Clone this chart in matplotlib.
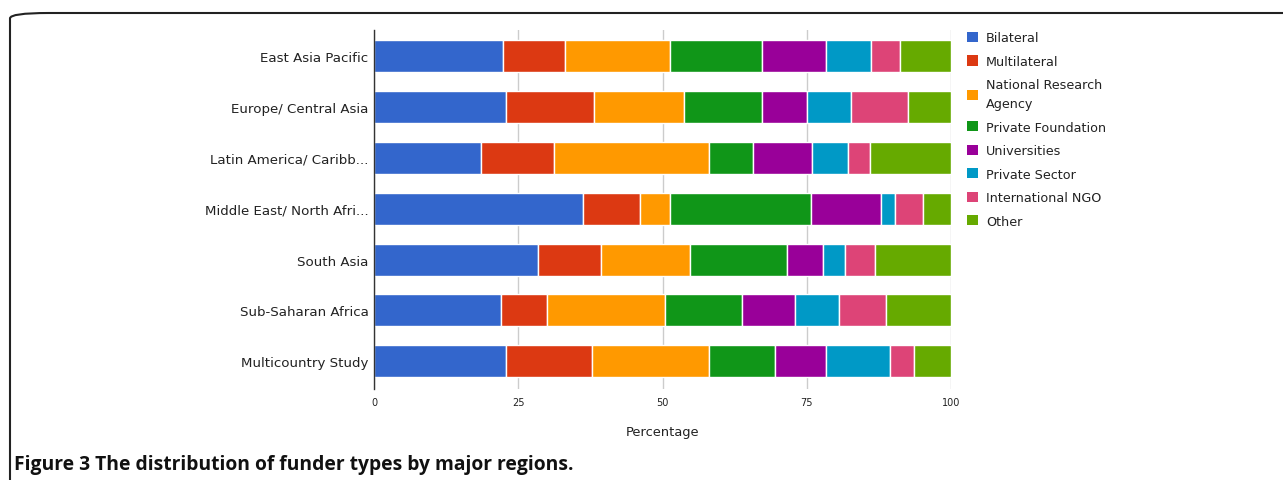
import matplotlib
matplotlib.use("Agg")
import matplotlib.pyplot as plt
from matplotlib.patches import FancyBboxPatch, Patch
import numpy as np

regions = ["East Asia Pacific", "Europe/ Central Asia", "Latin America/ Caribb...",
           "Middle East/ North Afri...", "South Asia", "Sub-Saharan Africa",
           "Multicountry Study"]
funders = ["Bilateral", "Multilateral", "National Research\nAgency", "Private Foundation",
           "Universities", "Private Sector", "International NGO", "Other"]
bilateral     = [22.3, 22.8, 18.5, 36.3, 28.5, 22.0, 22.8]
multilateral  = [10.8, 15.4, 12.7,  9.8, 10.9,  7.9, 15.0]
national_res  = [18.2, 15.5, 26.8,  5.2, 15.4, 20.6, 20.2]
private_found = [16.0, 13.5,  7.6, 24.4, 16.8, 13.3, 11.5]
universities  = [11.1,  7.9, 10.3, 12.2,  6.3,  9.1,  8.9]
private_sect  = [ 7.8,  7.6,  6.3,  2.4,  3.7,  7.7, 11.1]
intl_ngo      = [ 4.9,  9.8,  3.8,  4.9,  5.2,  8.1,  4.1]
other         = [ 8.9,  7.5, 14.0,  4.8, 13.2, 11.3,  6.4]
xticks = [0, 25, 50, 75, 100]

series = [bilateral, multilateral, national_res, private_found, universities,
          private_sect, intl_ngo, other]
colors = ["#3366cc", "#dc3912", "#ff9900", "#109618", "#990099", "#0099c6",
          "#dd4477", "#66aa00"]

fig = plt.figure(figsize=(12.83, 4.81), dpi=100)
ax = fig.add_axes([374/1283, 1-390/481, 577/1283, 359/481])

y = np.arange(len(regions))
left = np.zeros(len(regions))
for vals, c in zip(series, colors):
    vals = np.array(vals)
    ax.barh(y, vals, left=left, height=0.63, color=c, edgecolor="white",
            linewidth=1.0, zorder=3)
    left += vals

ax.set_xlim(0, 100)
ax.set_ylim(6.55, -0.52)
ax.set_yticks(y)
ax.set_yticklabels(regions, fontsize=9.6, color="#222222")
ax.set_xticks(xticks)
ax.set_xticklabels([str(t) for t in xticks], fontsize=7, color="#222222")
ax.tick_params(axis="y", length=0, pad=4)
ax.tick_params(axis="x", length=0, pad=6)
ax.grid(axis="x", color="#cccccc", linewidth=1, zorder=0)
for s in ["top", "right", "bottom"]:
    ax.spines[s].set_visible(False)
ax.spines["left"].set_color("#333333")
ax.spines["left"].set_linewidth(1)
ax.spines["left"].set_zorder(5)
ax.set_xlabel("Percentage", fontsize=9.4, color="#222222", labelpad=13)

handles = [Patch(facecolor=c, edgecolor="none") for c in colors]
leg = fig.legend(handles, funders, loc="upper left", bbox_to_anchor=(961/1283, 1-26/481),
                 frameon=False, fontsize=9.2, handlelength=0.85, handleheight=0.85,
                 handletextpad=0.6, labelspacing=0.82, borderpad=0)
for t in leg.get_texts():
    t.set_color("#222222")
    t.set_linespacing(1.6)

# frame
frame = FancyBboxPatch((10/1283, -0.2), 1.2, 1-14/481+0.2,
                       boxstyle="round,pad=0,rounding_size=0.03",
                       transform=fig.transFigure, fill=False,
                       edgecolor="#222222", linewidth=1.5, mutation_aspect=481/1283)
fig.add_artist(frame)
fig.text(14/1283, 1-465/481, "Figure 3 The distribution of funder types by major regions.",
         fontsize=13.9, fontweight="bold", va="center", ha="left", family="Open Sans",
         color="#111111")

fig.savefig("out.png", dpi=100)
